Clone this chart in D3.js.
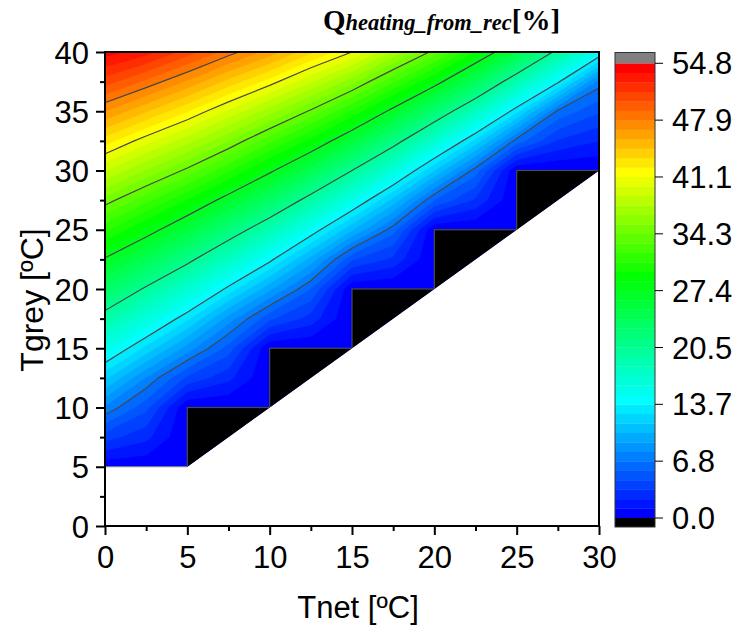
<!DOCTYPE html>
<html>
<head>
<meta charset="utf-8">
<script src="https://cdn.jsdelivr.net/npm/d3@7"></script>
<style>
  body { margin: 0; background: #fff; }
  svg { display: block; }
</style>
</head>
<body>
<svg id="chart" width="740" height="633"></svg>
<script>
// Grid of net temperature (columns) and grey-water temperature (rows)
const tnet = [0, 2.5, 5, 7.5, 10, 12.5, 15, 17.5, 20, 22.5, 25, 27.5, 30];
const tgrey = [5, 7.5, 10, 12.5, 15, 17.5, 20, 22.5, 25, 27.5, 30, 32.5, 35, 37.5, 40];

// Heating share recovered [%], one row per tgrey value
const q05_0 = [0.3, 0.2, 0, 0, 0, 0, 0, 0, 0, 0, 0, 0, 0];
const q07_5 = [3.9, 2.6, 0, 0, 0, 0, 0, 0, 0, 0, 0, 0, 0];
const q10_0 = [7.8, 4.9, 0, 0, 0, 0, 0, 0, 0, 0, 0, 0, 0];
const q12_5 = [11.7, 7.9, 4.3, 2.6, 0, 0, 0, 0, 0, 0, 0, 0, 0];
const q15_0 = [15.6, 12.2, 8.6, 5.2, 0, 0, 0, 0, 0, 0, 0, 0, 0];
const q17_5 = [19.5, 16.2, 12.8, 8.6, 4.8, 2.9, 0, 0, 0, 0, 0, 0, 0];
const q20_0 = [23.4, 20.2, 17.0, 13.3, 9.4, 5.7, 0, 0, 0, 0, 0, 0, 0];
const q22_5 = [27.2, 24.3, 21.2, 17.7, 14.1, 9.8, 4.7, 3.1, 0, 0, 0, 0, 0];
const q25_0 = [31.1, 28.4, 25.4, 22.1, 18.7, 14.7, 10.4, 6.2, 0, 0, 0, 0, 0];
const q27_5 = [34.9, 32.3, 29.6, 26.5, 23.3, 19.6, 15.5, 11.0, 5.7, 3.2, 0, 0, 0];
const q30_0 = [38.9, 36.4, 33.9, 31.0, 27.8, 24.4, 20.55, 16.3, 11.4, 6.3, 0, 0, 0];
const q32_5 = [42.8, 40.4, 38.1, 35.4, 32.3, 29.2, 25.6, 21.6, 17.0, 12.2, 6.35, 3.3, 2.3];
const q35_0 = [46.8, 44.6, 42.3, 39.7, 37.0, 34.0, 30.6, 26.8, 22.6, 18.0, 12.9, 6.6, 4.7];
const q37_5 = [50.8, 48.8, 46.6, 44.1, 41.7, 38.9, 35.8, 32.1, 28.3, 23.9, 18.9, 14.0, 7.45];
const q40_0 = [54.2, 53.0, 50.8, 48.5, 46.3, 43.6, 41.1, 37.4, 33.8, 29.5, 25.1, 19.9, 14.9];
const qRows = [q05_0, q07_5, q10_0, q12_5, q15_0, q17_5, q20_0, q22_5,
               q25_0, q27_5, q30_0, q32_5, q35_0, q37_5, q40_0];

// Cells where nothing is recovered (lower-left corner, 5 x 5 degrees each)
const zeroCells = [[5, 5], [10, 10], [15, 15], [20, 20], [25, 25]];
const zeroCellSize = 5;

// Outline of the computed region (tnet, tgrey)
const validRegion = [[0, 5], [5, 5], [30, 30], [30, 40], [0, 40]];

// Colour scale
const qMax = 54.8;
const nLevels = 48;
const scaleLabels = ["0.0", "6.8", "13.7", "20.5", "27.4", "34.3", "41.1", "47.9", "54.8"];

// Axis ticks
const xTicks = [0, 5, 10, 15, 20, 25, 30];
const xMinor = [2.5, 7.5, 12.5, 17.5, 22.5, 27.5];
const yTicks = [0, 5, 10, 15, 20, 25, 30, 35, 40];
const yMinor = [2.5, 7.5, 12.5, 17.5, 22.5, 27.5, 32.5, 37.5];

// ---------------------------------------------------------------------------
const svg = d3.select("#chart");
const sans = "'Liberation Sans', Arial, sans-serif";
const serif = "'Liberation Serif', 'Times New Roman', serif";
const labelSize = 31;

const x = d3.scaleLinear().domain([0, 30]).range([105, 599]);
const y = d3.scaleLinear().domain([0, 40]).range([526, 52]);

// Rainbow palette indexed by band number
const bandColor = d3.scaleLinear()
  .domain([0, 12, 25, 36, 47])
  .range(["#0000ff", "#00ffff", "#00ff00", "#ffff00", "#ff0000"])
  .interpolate(d3.interpolateRgb);

const step = qMax / nLevels;
const thresholds = d3.range(nLevels).map(i => i * step);
const lineLevels = d3.range(1, 8).map(k => k * qMax / 8);

const nx = tnet.length, ny = tgrey.length;
const values = qRows.flat();
const dxg = tnet[1] - tnet[0], dyg = tgrey[1] - tgrey[0];

// grid units -> data units -> pixels
const gridToScreen = d3.geoTransform({
  point(px, py) {
    this.stream.point(x(tnet[0] + (px - 0.5) * dxg), y(tgrey[0] + (py - 0.5) * dyg));
  }
});
const path = d3.geoPath(gridToScreen);

const defs = svg.append("defs");
defs.append("clipPath").attr("id", "region")
  .append("path")
  .attr("d", d3.line().x(d => x(d[0])).y(d => y(d[1]))(validRegion) + "Z");

const plot = svg.append("g").attr("clip-path", "url(#region)");

// filled bands
const bands = d3.contours().size([nx, ny]).thresholds(thresholds)(values);
plot.selectAll("path.band")
  .data(bands)
  .join("path")
  .attr("class", "band")
  .attr("d", path)
  .attr("fill", (d, i) => bandColor(i))
  .attr("stroke", (d, i) => bandColor(i))
  .attr("stroke-width", 0.6);

// iso-lines at the labelled levels
const iso = d3.contours().size([nx, ny]).thresholds(lineLevels)(values);
plot.selectAll("path.iso")
  .data(iso)
  .join("path")
  .attr("class", "iso")
  .attr("d", path)
  .attr("fill", "none")
  .attr("stroke", "#474747")
  .attr("stroke-width", 1.2);

// zero-recovery cells
plot.selectAll("rect.zero")
  .data(zeroCells)
  .join("rect")
  .attr("class", "zero")
  .attr("x", d => x(d[0]))
  .attr("y", d => y(d[1] + zeroCellSize))
  .attr("width", d => x(d[0] + zeroCellSize) - x(d[0]))
  .attr("height", d => y(d[1]) - y(d[1] + zeroCellSize))
  .attr("fill", "#000")
  .attr("stroke", "#4a4a4a")
  .attr("stroke-width", 1.2);

// lower edge of the computed region
svg.append("line")
  .attr("x1", x(validRegion[0][0])).attr("x2", x(validRegion[1][0]))
  .attr("y1", y(validRegion[0][1])).attr("y2", y(validRegion[1][1]))
  .attr("stroke", "#8a8a8a").attr("stroke-width", 1);

// frame
svg.append("rect")
  .attr("x", x(0)).attr("y", y(40))
  .attr("width", x(30) - x(0)).attr("height", y(0) - y(40))
  .attr("fill", "none").attr("stroke", "#000").attr("stroke-width", 2);

// axes
const xAxis = svg.append("g").attr("transform", `translate(0,${y(0)})`)
  .call(d3.axisBottom(x).tickValues(xTicks).tickSize(9).tickPadding(11).tickFormat(d3.format("d")));
svg.append("g").attr("transform", `translate(0,${y(0)})`)
  .call(d3.axisBottom(x).tickValues(xMinor).tickSize(5).tickFormat(""));
const yAxis = svg.append("g").attr("transform", `translate(${x(0)},0)`)
  .call(d3.axisLeft(y).tickValues(yTicks).tickSize(9).tickPadding(7).tickFormat(d3.format("d")));
svg.append("g").attr("transform", `translate(${x(0)},0)`)
  .call(d3.axisLeft(y).tickValues(yMinor).tickSize(5).tickFormat(""));

svg.selectAll(".domain").remove();
svg.selectAll(".tick line").attr("stroke", "#000").attr("stroke-width", 2);
svg.selectAll(".tick text").attr("font-family", sans).attr("font-size", labelSize).attr("fill", "#000");
xAxis.selectAll(".tick text").attr("dy", "0.71em");
yAxis.selectAll(".tick text").attr("dy", "0.36em");

// axis titles
svg.append("text")
  .attr("x", 358).attr("y", 618)
  .attr("text-anchor", "middle")
  .attr("font-family", sans).attr("font-size", labelSize)
  .text("Tnet [ºC]");
svg.append("text")
  .attr("transform", `translate(43,300) rotate(-90)`)
  .attr("text-anchor", "middle")
  .attr("font-family", sans).attr("font-size", 32)
  .text("Tgrey [ºC]");

// title
const title = svg.append("text")
  .attr("x", 323).attr("y", 30)
  .attr("font-family", serif).attr("font-weight", "bold");
title.append("tspan").attr("font-size", 29).text("Q");
title.append("tspan").attr("font-size", 22.5).attr("font-style", "italic").text("heating_from_rec");
title.append("tspan").attr("font-size", 29).text("[%]");

// colour bar
const cbX = 615, cbW = 40, cbTop = 52.5, cbBottom = 527;
const cb = d3.scaleLinear().domain([0, qMax]).range([518, 63.3]);
const bar = svg.append("g");
bar.selectAll("rect.level")
  .data(thresholds)
  .join("rect")
  .attr("class", "level")
  .attr("x", cbX).attr("width", cbW)
  .attr("y", d => cb(d + step))
  .attr("height", d => cb(d) - cb(d + step) + 0.3)
  .attr("fill", (d, i) => bandColor(i));
bar.append("rect")
  .attr("x", cbX).attr("width", cbW)
  .attr("y", cbTop).attr("height", cb(qMax) - cbTop)
  .attr("fill", "#808080");
bar.append("rect")
  .attr("x", cbX).attr("width", cbW)
  .attr("y", cb(0)).attr("height", cbBottom - cb(0))
  .attr("fill", "#000");
bar.append("rect")
  .attr("x", cbX).attr("width", cbW)
  .attr("y", cbTop).attr("height", cbBottom - cbTop)
  .attr("fill", "none").attr("stroke", "#333").attr("stroke-width", 1);

const labelVals = scaleLabels.map((s, i) => i * qMax / 8);
bar.selectAll("line.cbtick")
  .data(labelVals)
  .join("line")
  .attr("class", "cbtick")
  .attr("x1", cbX + cbW).attr("x2", cbX + cbW + 8)
  .attr("y1", d => cb(d)).attr("y2", d => cb(d))
  .attr("stroke", "#000").attr("stroke-width", 1);
bar.selectAll("text.cblabel")
  .data(scaleLabels)
  .join("text")
  .attr("class", "cblabel")
  .attr("x", cbX + cbW + 17)
  .attr("y", (d, i) => cb(labelVals[i]))
  .attr("dy", "0.36em")
  .attr("font-family", sans).attr("font-size", labelSize)
  .text(d => d);
</script>
</body>
</html>
